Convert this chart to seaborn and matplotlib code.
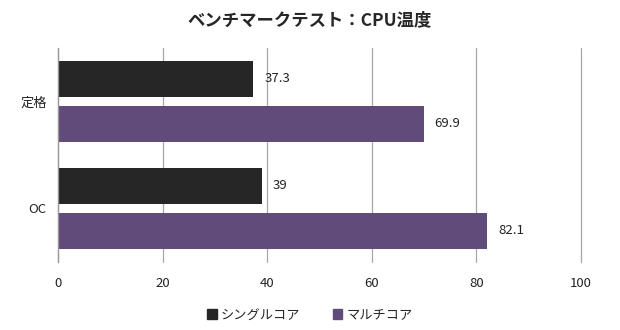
import matplotlib
matplotlib.use("Agg")
import matplotlib.pyplot as plt
import seaborn as sns
import pandas as pd

categories = ["定格", "OC"]
series_names = ["シングルコア", "マルチコア"]
single_core = [37.3, 39]
multi_core = [69.9, 82.1]
value_labels = [["37.3", "39"], ["69.9", "82.1"]]
x_ticks = [0, 20, 40, 60, 80, 100]
title = "ベンチマークテスト：CPU温度"

colors = ["#262626", "#614b7b"]

df = pd.DataFrame({
    "cat": categories * 2,
    "series": [series_names[0]] * 2 + [series_names[1]] * 2,
    "value": single_core + multi_core,
})

sns.set_theme(style="white")
plt.rcParams["font.family"] = ["Noto Sans CJK JP", "DejaVu Sans"]

fig = plt.figure(figsize=(6.2, 3.3), dpi=100)
ax = fig.add_axes([0.0935, 0.206, 0.8435, 0.649])

sns.barplot(data=df, y="cat", x="value", hue="series", orient="h",
            palette=colors, width=0.84, gap=0.2, ax=ax, legend=False,
            saturation=1, zorder=3, linewidth=0)

ax.set_xlim(0, 100)
ax.set_xticks(x_ticks)
ax.set_xticklabels([str(t) for t in x_ticks], fontsize=9.5, color="#222222")
ax.set_xlabel("")
ax.set_ylabel("")
ax.tick_params(axis="y", labelsize=9.5, colors="#222222", length=0, pad=8)
ax.tick_params(axis="x", length=0, pad=11)
ax.grid(axis="x", color="#a6a6a6", linewidth=0.9, zorder=0)
for gl in ax.get_xgridlines():
    gl.set_clip_on(False)
for s in ["top", "right", "bottom"]:
    ax.spines[s].set_visible(False)
ax.spines["left"].set_color("#999999")
ax.spines["left"].set_linewidth(0.9)
ax.spines["left"].set_zorder(4)

for container, labels in zip(ax.containers, value_labels):
    ax.bar_label(container, labels=labels, padding=8, fontsize=9.5, color="#222222")

fig.text(0.5, 0.94, title, ha="center", va="center", fontsize=12.5, fontweight="bold")

handles = [plt.Rectangle((0, 0), 1, 1, color=c) for c in colors]
fig.legend(handles, series_names, loc="center", bbox_to_anchor=(0.5, 0.045), ncol=2,
           frameon=False, fontsize=9.5, handlelength=0.7, handleheight=0.7,
           handletextpad=0.3, columnspacing=2.5)

fig.savefig("out.png", dpi=100)
